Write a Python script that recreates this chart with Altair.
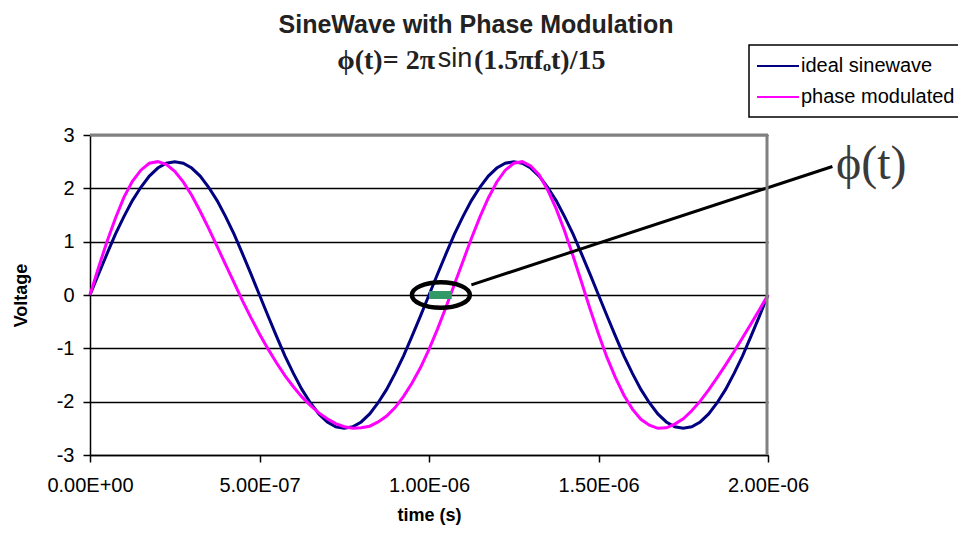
import altair as alt
import pandas as pd

# ---- data ----
time_step = 2.5e-8
time_s = [i * time_step for i in range(81)]

ideal_sinewave = [
    0.00, 0.39, 0.77, 1.14, 1.47, 1.77, 2.02, 2.23, 2.38, 2.47,
    2.50, 2.47, 2.38, 2.23, 2.02, 1.77, 1.47, 1.14, 0.77, 0.39,
    0.00, -0.39, -0.77, -1.14, -1.47, -1.77, -2.02, -2.23, -2.38, -2.47,
    -2.50, -2.47, -2.38, -2.23, -2.02, -1.77, -1.47, -1.14, -0.77, -0.39,
    0.00, 0.39, 0.77, 1.14, 1.47, 1.77, 2.02, 2.23, 2.38, 2.47,
    2.50, 2.47, 2.38, 2.23, 2.02, 1.77, 1.47, 1.14, 0.77, 0.39,
    0.00, -0.39, -0.77, -1.14, -1.47, -1.77, -2.02, -2.23, -2.38, -2.47,
    -2.50, -2.47, -2.38, -2.23, -2.02, -1.77, -1.47, -1.14, -0.77, -0.39,
    0.00,
]

phase_modulated = [
    0.00, 0.51, 1.00, 1.44, 1.83, 2.13, 2.34, 2.47, 2.50, 2.45,
    2.32, 2.12, 1.87, 1.57, 1.25, 0.91, 0.57, 0.23, -0.11, -0.43,
    -0.73, -1.01, -1.27, -1.51, -1.72, -1.91, -2.07, -2.21, -2.32, -2.41,
    -2.47, -2.50, -2.49, -2.46, -2.38, -2.27, -2.11, -1.90, -1.65, -1.36,
    -1.02, -0.64, -0.23, 0.20, 0.63, 1.06, 1.46, 1.82, 2.12, 2.34,
    2.47, 2.50, 2.42, 2.25, 1.97, 1.62, 1.20, 0.73, 0.24, -0.26,
    -0.73, -1.17, -1.55, -1.88, -2.14, -2.33, -2.44, -2.50, -2.49, -2.42,
    -2.32, -2.17, -1.99, -1.78, -1.55, -1.31, -1.06, -0.80, -0.54, -0.27,
    0.00,
]

series_names = ["ideal sinewave", "phase modulated"]
series_colors = ["#000080", "#FF00FF"]

y_ticks = [-3, -2, -1, 0, 1, 2, 3]
x_ticks = [0.0, 5e-7, 1e-6, 1.5e-6, 2e-6]
x_tick_labels = ["0.00E+00", "5.00E-07", "1.00E-06", "1.50E-06", "2.00E-06"]

# annotation: phase difference bar, ellipse and pointer
phi_bar_t = [1.0e-6, 1.067e-6]
phi_bar_v = [0.0]
ellipse_t = [1.035e-6]
ellipse_v = [0.0]
pointer_t = [1.125e-6, 2.19e-6]
pointer_v = [0.19, 2.41]

title_text = "SineWave with Phase Modulation"
subtitle_a = "ϕ(t)= 2π"
subtitle_b = "sin"
subtitle_c = "(1.5πfₒt)/15"
phi_label = "ϕ(t)"

W, H = 678, 320

# ---- tables ----
rows = []
for t, a, b in zip(time_s, ideal_sinewave, phase_modulated):
    rows.append({"time": t, "value": a, "series": series_names[0]})
    rows.append({"time": t, "value": b, "series": series_names[1]})
df = pd.DataFrame(rows)

label_expr = "''"
for v, lab in reversed(list(zip(x_ticks, x_tick_labels))):
    label_expr = f"round(datum.value*1e8)=={round(v * 1e8)} ? '{lab}' : ({label_expr})"

xscale = alt.Scale(domain=[0, 2e-6], nice=False, zero=False)
yscale = alt.Scale(domain=[-3, 3], nice=False)

x_axis = alt.Axis(
    values=x_ticks, labelExpr=label_expr, title="time (s)", grid=False,
    labelFont="Liberation Sans", labelFontSize=20, labelColor="black",
    labelPadding=13, tickSize=7, tickColor="black", domainColor="black",
    domainWidth=1.5, tickWidth=1.5, titleFont="Liberation Sans",
    titleFontSize=18, titleFontWeight="bold", titleColor="black",
    titlePadding=11, labelFlush=False, labelOverlap=False,
)
y_axis = alt.Axis(
    values=y_ticks, title="Voltage", grid=True, gridColor="black",
    gridWidth=1.5, labelFont="Liberation Sans", labelFontSize=20,
    labelColor="black", labelPadding=9, tickSize=7, tickColor="black",
    tickWidth=1.5, domainColor="black", domainWidth=1.5,
    labelExpr="replace(datum.label, '−', '-')",
    titleFont="Liberation Sans", titleFontSize=18, titleFontWeight="bold",
    titleColor="black", titlePadding=26,
)

lines = alt.Chart(df).mark_line(strokeWidth=3).encode(
    x=alt.X("time:Q", scale=xscale, axis=x_axis),
    y=alt.Y("value:Q", scale=yscale, axis=y_axis),
    color=alt.Color("series:N", scale=alt.Scale(domain=series_names, range=series_colors), legend=None),
    order="series:N",
)

frame_top = alt.Chart(pd.DataFrame({"a": [0]})).mark_rule(color="#808080", strokeWidth=3).encode(
    x=alt.value(0), x2=alt.value(W), y=alt.value(0))
frame_right = alt.Chart(pd.DataFrame({"a": [0]})).mark_rule(color="#808080", strokeWidth=3).encode(
    x=alt.value(W - 1), y=alt.value(0), y2=alt.value(H))

bar_df = pd.DataFrame({"t0": [phi_bar_t[0]], "t1": [phi_bar_t[1]], "v": phi_bar_v})
phi_bar = alt.Chart(bar_df).mark_rule(color="#339966", strokeWidth=8).encode(
    x=alt.X("t0:Q", scale=xscale), x2="t1:Q", y=alt.Y("v:Q", scale=yscale))

ell_df = pd.DataFrame({"t": ellipse_t, "v": ellipse_v})
ellipse = alt.Chart(ell_df).mark_point(
    shape="M -1 0 A 1 0.44 0 1 1 1 0 A 1 0.44 0 1 1 -1 0 Z",
    filled=False, stroke="black", strokeWidth=4.5, size=3364, opacity=1,
).encode(x=alt.X("t:Q", scale=xscale), y=alt.Y("v:Q", scale=yscale))

ptr_df = pd.DataFrame({"t0": [pointer_t[0]], "t1": [pointer_t[1]], "v0": [pointer_v[0]], "v1": [pointer_v[1]]})
pointer = alt.Chart(ptr_df).mark_rule(color="black", strokeWidth=3).encode(
    x=alt.X("t0:Q", scale=xscale), x2="t1:Q",
    y=alt.Y("v0:Q", scale=yscale), y2="v1:Q")

phi_text = alt.Chart(pd.DataFrame({"s": [phi_label]})).mark_text(
    font="Liberation Serif", fontSize=48, align="left", baseline="middle", color="#3a3a3a",
).encode(x=alt.value(746), y=alt.value(30), text="s:N")

title = alt.Chart(pd.DataFrame({"s": [title_text]})).mark_text(
    font="Liberation Sans", fontSize=25, fontWeight="bold", align="center",
    baseline="middle", color="#222222",
).encode(x=alt.value(386), y=alt.value(-110), text="s:N")

sub_a = alt.Chart(pd.DataFrame({"s": [subtitle_a]})).mark_text(
    font="Liberation Serif", fontSize=28, fontWeight="bold", align="right",
    baseline="middle", color="#222222",
).encode(x=alt.value(345), y=alt.value(-74), text="s:N")
sub_b = alt.Chart(pd.DataFrame({"s": [subtitle_b]})).mark_text(
    font="Liberation Sans", fontSize=27, align="center",
    baseline="middle", color="#222222",
).encode(x=alt.value(365), y=alt.value(-76), text="s:N")
sub_c = alt.Chart(pd.DataFrame({"s": [subtitle_c]})).mark_text(
    font="Liberation Serif", fontSize=28, fontWeight="bold", align="left",
    baseline="middle", color="#222222",
).encode(x=alt.value(384), y=alt.value(-74), text="s:N")

# manual legend box
legend_layers = [
    alt.Chart(pd.DataFrame({"a": [0]})).mark_rect(fill="white", stroke="black", strokeWidth=1.5).encode(
        x=alt.value(659), x2=alt.value(885), y=alt.value(-90), y2=alt.value(-18))
]
for i, (name, col) in enumerate(zip(series_names, series_colors)):
    ypos = -69 + 31 * i
    legend_layers.append(
        alt.Chart(pd.DataFrame({"a": [0]})).mark_rule(color=col, strokeWidth=2).encode(
            x=alt.value(667), x2=alt.value(709), y=alt.value(ypos)))
    legend_layers.append(
        alt.Chart(pd.DataFrame({"s": [name]})).mark_text(
            font="Liberation Sans", fontSize=20, align="left", baseline="middle", color="black",
        ).encode(x=alt.value(711), y=alt.value(ypos), text="s:N"))

chart = alt.layer(
    lines, phi_bar, ellipse, pointer, frame_top, frame_right, phi_text,
    title, sub_a, sub_b, sub_c, *legend_layers,
).properties(
    width=W, height=H,
    autosize=alt.AutoSizeParams(type="none"),
    padding={"left": 82, "top": 127, "right": 190, "bottom": 75},
    background="white",
).configure_view(stroke=None)

chart.save("out.html", embed_options={"renderer": "svg", "actions": False})
